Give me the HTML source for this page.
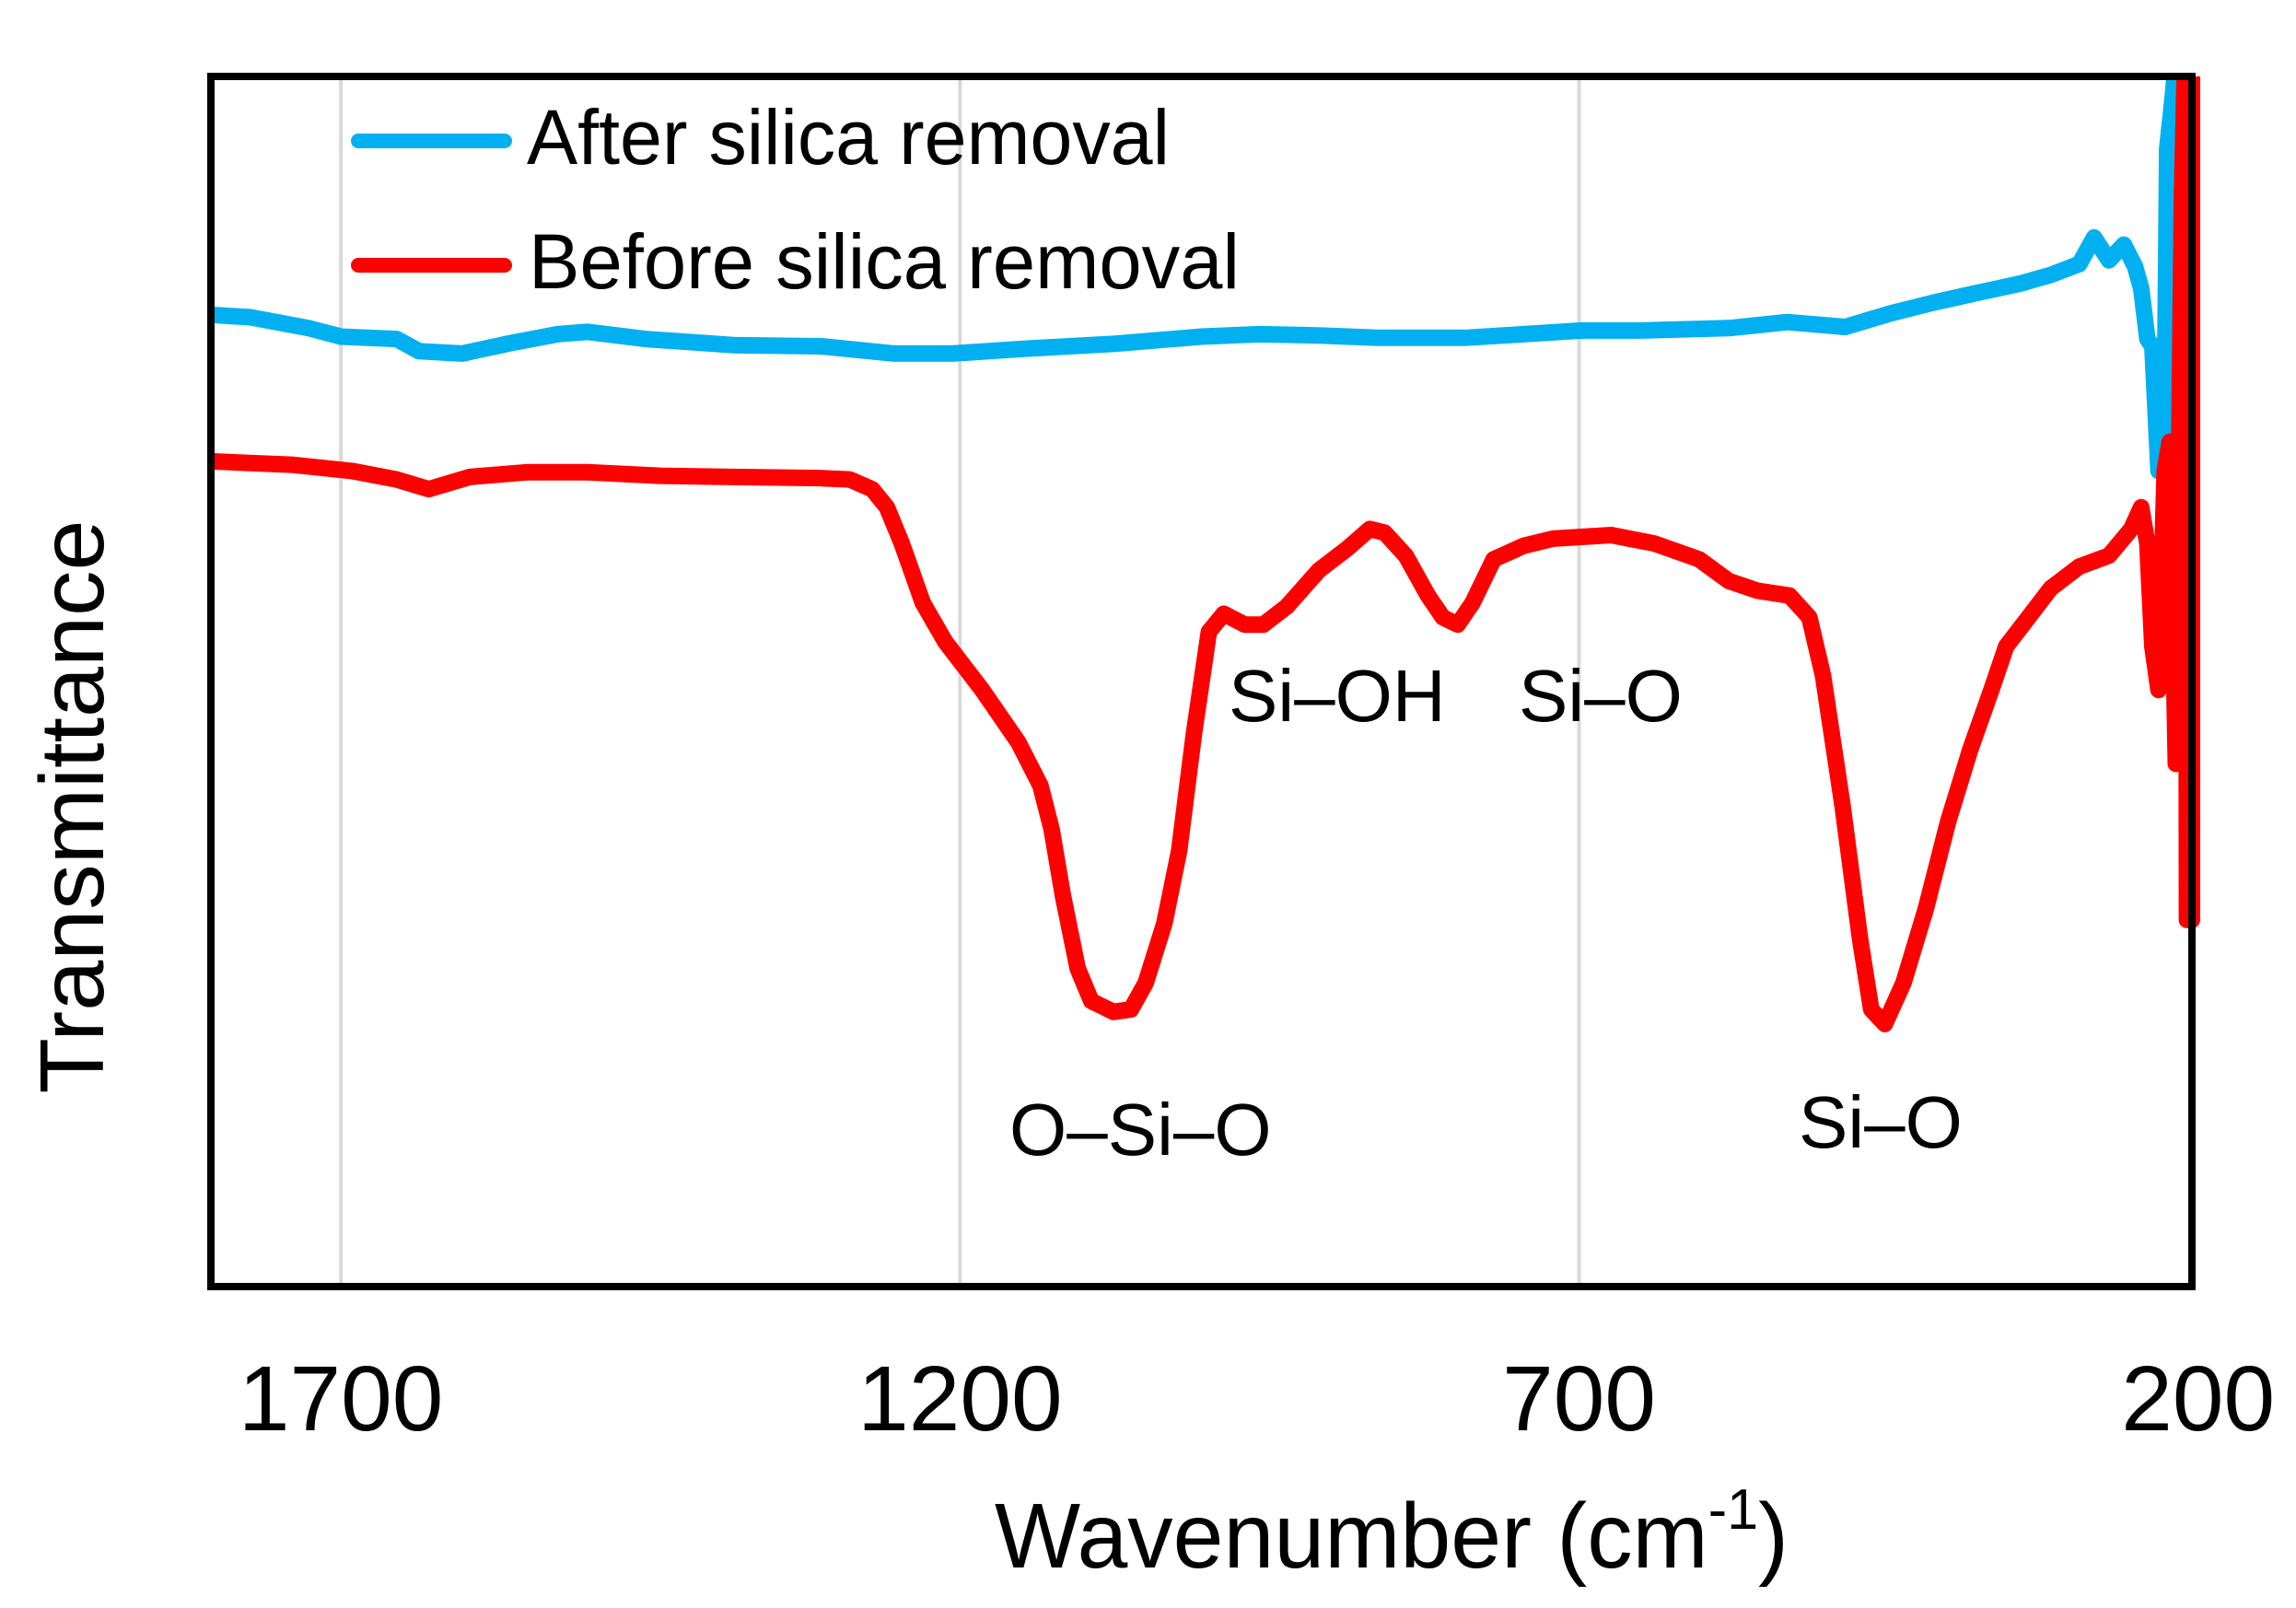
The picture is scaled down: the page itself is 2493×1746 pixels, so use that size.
<!DOCTYPE html>
<html><head><meta charset="utf-8"><style>
html,body{margin:0;padding:0;background:#fff;}
svg{display:block;font-family:"Liberation Sans",Arial,sans-serif;}
</style></head><body>
<svg id="chart" width="2493" height="1746" viewBox="0 0 2493 1746" xmlns="http://www.w3.org/2000/svg">
<defs><clipPath id="plotclip"><rect x="229" y="83" width="2160" height="1314"/></clipPath></defs>
<g id="grid"></g>
<g id="series" clip-path="url(#plotclip)"></g>
<rect x="229" y="83" width="2151" height="1314" fill="none" stroke="#000" stroke-width="8"/>
<g id="ticks"></g>
<g>
<line x1="389" y1="153" x2="548" y2="153" stroke="#00b0f0" stroke-width="16" stroke-linecap="round"/>
<text x="572" y="178" font-size="84" textLength="698" lengthAdjust="spacingAndGlyphs">After silica removal</text>
<line x1="389" y1="288" x2="548" y2="288" stroke="#ff0000" stroke-width="16" stroke-linecap="round"/>
<text x="574" y="313" font-size="84" textLength="772" lengthAdjust="spacingAndGlyphs">Before silica removal</text>
</g>
<text x="1096" y="1254" font-size="80">O–Si–O</text>
<text x="1334" y="783" font-size="80">Si–OH</text>
<text x="1649" y="783" font-size="80">Si–O</text>
<text x="1953" y="1246" font-size="80">Si–O</text>
<text x="1080" y="1702" font-size="100" textLength="862" lengthAdjust="spacingAndGlyphs">Wavenumber (cm<tspan font-size="62" dy="-42">-1</tspan><tspan dy="42">)</tspan></text>
<text transform="translate(112,876) rotate(-90)" text-anchor="middle" font-size="98" textLength="623" lengthAdjust="spacingAndGlyphs">Transmittance</text>
</svg>
<script>
const afterWn = [1805,1773,1726,1700,1655,1637,1602,1566,1525,1501,1454,1383,1312,1253,1206,1147,1076,1005,958,910,863,792,745,698,650,579,532,485,449,414,379,343,319,296,284,272,260,251,246,241,237,232,227,225,220,216,211,205];
const afterT = [80.3,80.1,79.2,78.5,78.3,77.3,77.1,77.9,78.7,78.9,78.3,77.8,77.7,77.1,77.1,77.5,77.9,78.5,78.7,78.6,78.4,78.4,78.7,79.0,79.0,79.2,79.7,79.3,80.4,81.3,82.1,82.9,83.6,84.5,86.7,84.8,86.1,84.3,82.5,78.3,77.7,67.4,71.0,94.0,98.8,104,104,104];
const beforeWn = [1805,1738,1691,1655,1629,1596,1549,1501,1442,1383,1312,1289,1271,1259,1247,1230,1212,1182,1153,1135,1126,1117,1105,1094,1076,1062,1050,1035,1023,1011,999,987,970,955,936,910,887,869,857,840,822,810,798,786,769,745,721,674,639,603,579,556,530,514,503,487,473,464,453,438,420,402,384,367,355,337,319,296,272,254,246,241,237,232,227,223,218,213,210,209,208,207,206,205,204];
const beforeT = [68.2,67.9,67.4,66.7,65.9,66.9,67.3,67.3,67.0,66.9,66.8,66.7,65.9,64.4,61.4,56.5,53.3,49.3,45.0,41.4,37.8,32.4,26.3,23.6,22.7,22.9,25.1,30.0,36.0,45.7,54.1,55.6,54.7,54.7,56.2,59.2,61.0,62.6,62.3,60.4,57.1,55.3,54.7,56.5,60.1,61.2,61.8,62.1,61.4,60.1,58.3,57.5,57.1,55.3,50.5,39.6,28.7,22.9,21.7,25.1,31.2,38.4,44.4,49.3,52.9,55.3,57.7,59.5,60.4,62.6,64.4,61.4,52.9,49.3,67.4,69.8,43.2,90.3,104,30.3,104,30.3,104,30.3,104];
const tickValues = [1700,1200,700,200];
const tickLabels = ["1700","1200","700","200"];

const NS = "http://www.w3.org/2000/svg";
const X = wn => 229 + (1805 - wn) / 1600 * 2151;
const Y = t => 1397 - t * 13.14;

const grid = document.getElementById('grid');
const ticks = document.getElementById('ticks');
tickValues.forEach((v, i) => {
  const x = X(v);
  if (v !== 200) {
    const l = document.createElementNS(NS, 'line');
    l.setAttribute('x1', x); l.setAttribute('x2', x);
    l.setAttribute('y1', 83); l.setAttribute('y2', 1397);
    l.setAttribute('stroke', '#d9d9d9'); l.setAttribute('stroke-width', 4);
    
    
    grid.appendChild(l);
  }
  const t = document.createElementNS(NS, 'text');
  t.setAttribute('x', x); t.setAttribute('y', 1553);
  t.setAttribute('text-anchor', 'middle'); t.setAttribute('font-size', 100);
  t.textContent = tickLabels[i];
  
  
  ticks.appendChild(t);
});

const series = document.getElementById('series');
function drawLine(wn, tv, color, name) {
  const p = document.createElementNS(NS, 'path');
  p.setAttribute('d', wn.map((w, i) => (i ? 'L' : 'M') + X(w).toFixed(1) + ' ' + Y(tv[i]).toFixed(1)).join(' '));
  p.setAttribute('fill', 'none'); p.setAttribute('stroke', color);
  p.setAttribute('stroke-width', 18); p.setAttribute('stroke-linejoin', 'round'); p.setAttribute('stroke-linecap', 'round');
  
  
  series.appendChild(p);
}
drawLine(afterWn, afterT, '#00b0f0', 'after-silica-removal-line');
drawLine(beforeWn, beforeT, '#ff0000', 'before-silica-removal-line');
</script>
</body></html>
